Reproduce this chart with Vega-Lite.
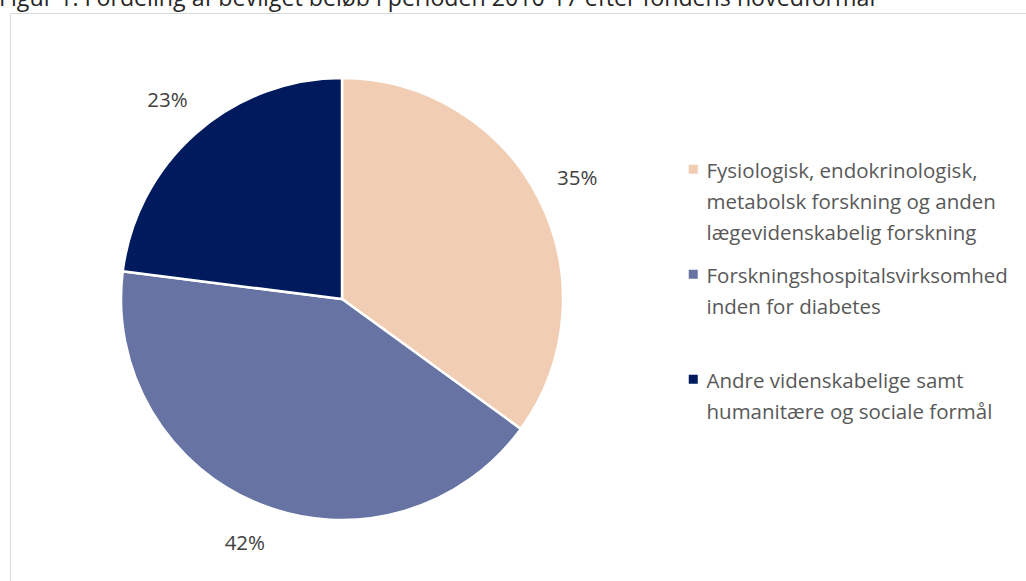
{
  "$schema": "https://vega.github.io/schema/vega-lite/v6.json",
  "width": 1020,
  "height": 572,
  "autosize": {"type": "none"},
  "padding": {"left": 10, "top": 13, "right": 0, "bottom": 0},
  "background": "white",
  "title": {
    "text": "Figur 1: Fordeling af bevilget beløb i perioden 2010-17 efter fondens hovedformål",
    "anchor": "start",
    "font": "Open Sans",
    "fontSize": 23.2,
    "fontWeight": "normal",
    "color": "#262626",
    "baseline": "alphabetic",
    "offset": 5,
    "dx": -11,
    "dy": 21.5
  },
  "data": {
    "values": [
      {"category": "Fysiologisk, endokrinologisk,|metabolsk forskning og anden|lægevidenskabelig forskning", "share": 0.35, "rank": 1},
      {"category": "Forskningshospitalsvirksomhed|inden for diabetes", "share": 0.42, "rank": 2},
      {"category": "Andre videnskabelige samt|humanitære og sociale formål", "share": 0.23, "rank": 3}
    ]
  },
  "encoding": {
    "theta": {"field": "share", "type": "quantitative", "stack": true},
    "order": {"field": "rank", "type": "quantitative"},
    "x": {"datum": "pie", "type": "nominal", "scale": {"type": "point", "domain": ["pie", "legend"], "padding": 0.9326}, "axis": null}
  },
  "layer": [
    {
      "mark": {"type": "arc", "outerRadius": 221, "stroke": "white", "strokeWidth": 2.5},
      "encoding": {
        "color": {
          "field": "category",
          "type": "nominal",
          "scale": {
            "domain": [
              "Fysiologisk, endokrinologisk,|metabolsk forskning og anden|lægevidenskabelig forskning",
              "Forskningshospitalsvirksomhed|inden for diabetes",
              "Andre videnskabelige samt|humanitære og sociale formål"
            ],
            "range": ["#F1CDB3", "#6673A3", "#001A5E"]
          },
          "legend": {
            "orient": "none",
            "legendX": 673,
            "legendY": 146,
            "title": null,
            "padding": 0,
            "symbolType": "square",
            "symbolSize": 81,
            "symbolStrokeWidth": 0,
            "labelFont": "Open Sans",
            "labelFontSize": 20.5,
            "labelColor": "#595959",
            "labelLimit": 0,
            "labelOffset": 3,
            "labelBaseline": "alphabetic",
            "labelExpr": "split(datum.label, '|')",
            "gridAlign": "all",
            "rowPadding": 19
          }
        }
      }
    },
    {
      "mark": {"type": "text", "radius": 264, "font": "Open Sans", "fontSize": 20.5, "color": "#404040"},
      "encoding": {
        "text": {"field": "share", "type": "quantitative", "format": ".0%"}
      }
    }
  ],
  "config": {
    "view": {"stroke": "#d9d9d9", "strokeWidth": 1},
    "style": {"guide-label": {"lineHeight": 31, "dy": 9}}
  }
}
